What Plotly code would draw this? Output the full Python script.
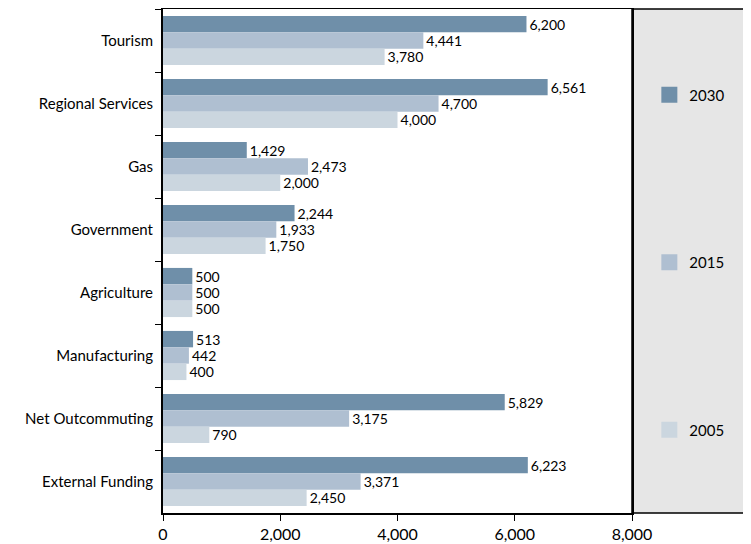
import plotly.graph_objects as go

categories = ["Tourism", "Regional Services", "Gas", "Government", "Agriculture",
              "Manufacturing", "Net Outcommuting", "External Funding"]
years = ["2030", "2015", "2005"]
values_2030 = [6200, 6561, 1429, 2244, 500, 513, 5829, 6223]
values_2015 = [4441, 4700, 2473, 1933, 500, 442, 3175, 3371]
values_2005 = [3780, 4000, 2000, 1750, 500, 400, 790, 2450]
colors = ["#6f8fa9", "#afbfd1", "#cbd6df"]
x_ticks = [0, 2000, 4000, 6000, 8000]

FONT = "Lato"
series = [values_2030, values_2015, values_2005]

fig = go.Figure()
for name, vals, col in zip(years, series, colors):
    fig.add_trace(go.Bar(
        y=categories, x=vals, orientation="h", name=name,
        marker=dict(color=col, line=dict(width=0)),
        text=[f"{v:,}" for v in vals], textposition="outside",
        textfont=dict(family=FONT, size=14, color="black"),
        constraintext="none", cliponaxis=False, showlegend=False,
    ))
for i, (name, col) in enumerate(zip(years, colors)):
    fig.add_trace(go.Scatter(
        x=[None], y=[None], mode="markers", name=name, legendgroup=f"g{i}",
        marker=dict(symbol="square", size=19, color=col),
    ))

fig.update_layout(
    width=743, height=536,
    margin=dict(l=155, r=119, t=1, b=31, autoexpand=False),
    paper_bgcolor="white", plot_bgcolor="white",
    barmode="group", bargap=0.22, bargroupgap=0,
    font=dict(family=FONT, size=14, color="black"),
    showlegend=True,
    legend=dict(x=1.037, xanchor="left", y=0.862, yanchor="top",
                bgcolor="rgba(0,0,0,0)", tracegroupgap=145,
                font=dict(family=FONT, size=15, color="black"),
                itemsizing="trace"),
    shapes=[dict(type="rect", xref="paper", yref="paper",
                 x0=1, x1=1.3, y0=0, y1=1, fillcolor="#e6e6e6",
                 line=dict(color="black", width=1.5), layer="below")],
)
fig.update_xaxes(range=[0, 8000], tickvals=x_ticks, tickformat=",",
                 ticks="outside", ticklen=6, tickcolor="black",
                 showline=True, linecolor="black", linewidth=2, mirror=True,
                 showgrid=False, zeroline=False, automargin=False,
                 tickfont=dict(family=FONT, size=16))
fig.update_yaxes(autorange="reversed", tickson="boundaries",
                 ticks="outside", ticklen=6, tickcolor="black",
                 showline=True, linecolor="black", linewidth=2, mirror=True,
                 showgrid=False, automargin=False, ticklabelstandoff=5,
                 tickfont=dict(family=FONT, size=15))

fig.write_html("out.html")
